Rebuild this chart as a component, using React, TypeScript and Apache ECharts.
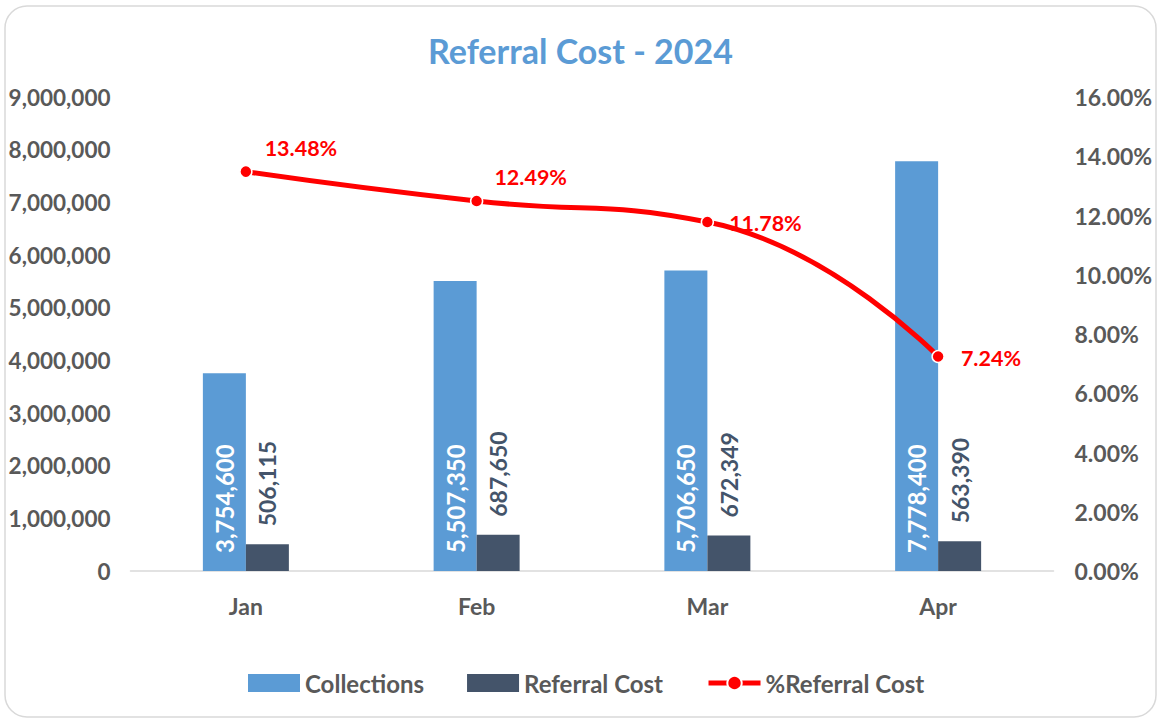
import React, { useEffect, useRef } from "react";
import * as echarts from "echarts";

const categories = ["Jan", "Feb", "Mar", "Apr"];
const collections = [3754600, 5507350, 5706650, 7778400];
const referralCost = [506115, 687650, 672349, 563390];
const pctReferral = [13.48, 12.49, 11.78, 7.24];

const FONT = "Lato, sans-serif";
const GREY = "#595959";

export default function App() {
  const ref = useRef<HTMLDivElement>(null);
  useEffect(() => {
    if (!ref.current) return;
    const chart = echarts.init(ref.current, null, { renderer: "svg" });
    const fmt = (v: number) => v.toLocaleString("en-US");
    const labelOffsets: [number, number][] = [
      [12, -24],
      [11, -24],
      [15, 1],
      [16, 1],
    ];
    chart.setOption({
      animation: false,
      backgroundColor: "#ffffff",
      textStyle: { fontFamily: FONT },
      graphic: [
        {
          type: "rect",
          shape: { x: 5, y: 6, width: 1151, height: 711, r: 22 },
          style: { fill: "none", stroke: "#d9d9d9", lineWidth: 1.5 },
          silent: true,
        },
      ],
      title: {
        text: "Referral Cost - 2024",
        left: "center",
        top: 28,
        textStyle: { color: "#5b9bd5", fontSize: 34, fontWeight: "bold", fontFamily: FONT },
      },
      legend: {
        bottom: 21,
        left: 243,
        itemWidth: 52,
        itemHeight: 18,
        itemGap: 43,
        textStyle: { color: GREY, fontSize: 24, fontWeight: "bold", fontFamily: FONT },
        data: [
          { name: "Collections", icon: "rect" },
          { name: "Referral Cost", icon: "rect" },
          { name: "%Referral Cost", lineStyle: { width: 5 } },
        ],
      },
      grid: { left: 130.5, right: 107.5, top: 97, bottom: 150 },
      xAxis: {
        type: "category",
        data: categories,
        axisLine: { lineStyle: { color: "#d9d9d9", width: 1.5 } },
        axisTick: { show: false },
        axisLabel: { color: GREY, fontSize: 23, fontWeight: "bold", margin: 23, fontFamily: FONT },
      },
      yAxis: [
        {
          type: "value",
          min: 0,
          max: 9000000,
          interval: 1000000,
          splitLine: { show: false },
          axisLine: { show: false },
          axisTick: { show: false },
          axisLabel: {
            color: GREY,
            fontSize: 22.5,
            fontWeight: "bold",
            margin: 20,
            fontFamily: FONT,
            formatter: (v: number) => fmt(v),
          },
        },
        {
          type: "value",
          min: 0,
          max: 16,
          interval: 2,
          splitLine: { show: false },
          axisLine: { show: false },
          axisTick: { show: false },
          axisLabel: {
            color: GREY,
            fontSize: 23,
            fontWeight: "bold",
            margin: 21,
            fontFamily: FONT,
            formatter: (v: number) => v.toFixed(2) + "%",
          },
        },
      ],
      series: [
        {
          name: "Collections",
          type: "bar",
          data: collections,
          barWidth: 43,
          barGap: "0%",
          itemStyle: { color: "#5b9bd5" },
          label: {
            show: true,
            position: "insideBottom",
            distance: 18,
            rotate: 90,
            align: "left",
            verticalAlign: "middle",
            color: "#ffffff",
            fontSize: 24,
            fontWeight: "bold",
            fontFamily: FONT,
            formatter: (p: any) => fmt(p.value),
          },
        },
        {
          name: "Referral Cost",
          type: "bar",
          data: referralCost,
          barWidth: 43,
          barGap: "0%",
          itemStyle: { color: "#44546a" },
          label: {
            show: true,
            position: "top",
            distance: 18,
            rotate: 90,
            align: "left",
            verticalAlign: "middle",
            color: "#44546a",
            fontSize: 23,
            fontWeight: "bold",
            fontFamily: FONT,
            formatter: (p: any) => fmt(p.value),
          },
        },
        {
          name: "%Referral Cost",
          type: "line",
          yAxisIndex: 1,
          data: pctReferral.map((v, i) => ({
            value: v,
            label: { offset: labelOffsets[i] },
          })),
          smooth: 0.5,
          symbol: "circle",
          symbolSize: 12,
          lineStyle: { color: "#ff0000", width: 5 },
          itemStyle: { color: "#ff0000", borderColor: "#ffffff", borderWidth: 1.5 },
          label: {
            show: true,
            position: "right",
            distance: 0,
            color: "#ff0000",
            fontSize: 21.5,
            fontWeight: "bold",
            fontFamily: FONT,
            formatter: (p: any) => p.value.toFixed(2) + "%",
          },
        },
      ],
    });
    return () => chart.dispose();
  }, []);
  return (
    <div
      ref={ref}
      style={{ position: "absolute", left: 0, top: 0, width: 1161, height: 721 }}
    />
  );
}
